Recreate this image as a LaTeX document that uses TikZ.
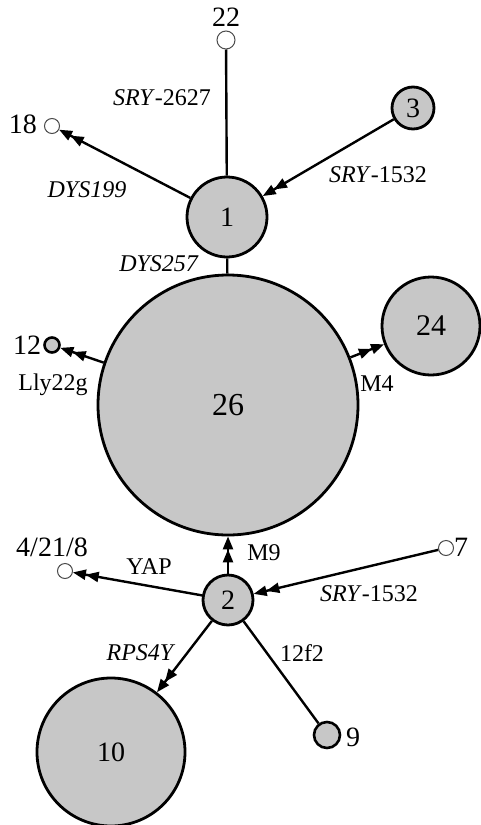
\documentclass[tikz,border=0pt]{standalone}
\usepackage{fontspec}
\setmainfont{Liberation Serif}
\usetikzlibrary{arrows.meta}

\tikzset{
  hap/.style={circle, draw=black, line width=2.8pt, fill=black!22, inner sep=0pt,
              font=\fontsize{28}{28}\selectfont},
  tiny/.style={circle, draw=black!70, line width=1pt, fill=white, inner sep=0pt},
  smallhap/.style={circle, draw=black, line width=2.6pt, fill=black!22, inner sep=0pt},
  lbl/.style={font=\fontsize{24}{24}\selectfont, inner sep=0pt},
  num/.style={font=\fontsize{28}{28}\selectfont, inner sep=0pt},
  link/.style={line width=2.4pt},
  mut/.style={line width=2.4pt,
    -{Triangle[length=13pt,width=10pt] Triangle[length=13pt,width=10pt]}},
}

\begin{document}
\begin{tikzpicture}[x=1pt, y=-1pt]
\useasboundingbox (0,0) rectangle (480,825);

% haplotype circles
\node[hap, minimum size=80pt] (n1) at (227,217) {1};
\node[hap, minimum size=42pt] (n3) at (413,108) {3};
\node[hap, minimum size=260pt, font=\fontsize{32}{32}\selectfont] (n26) at (228,405) {26};
\node[hap, minimum size=98pt, font=\fontsize{30}{30}\selectfont] (n24) at (431,326) {24};
\node[hap, minimum size=50pt] (n2) at (228,600) {2};
\node[hap, minimum size=148pt] (n10) at (111,752) {10};
\node[smallhap, minimum size=26pt] (n9) at (327,735) {};
\node[smallhap, minimum size=15pt] (n12) at (52,345) {};
\node[tiny, minimum size=18pt] (n22) at (226,40) {};
\node[tiny, minimum size=15pt] (n18) at (52,126) {};
\node[tiny, minimum size=15pt] (n4218) at (65,571) {};
\node[tiny, minimum size=15pt] (n7) at (446,548) {};

% labels of the outer haplotypes
\node[num] (t22) at (226,17) {22};
\node[num] (t18) at (23,124) {18};
\node[num] (t12) at (27,345) {12};
\node[num] (t4218) at (52,547) {4/21/8};
\node[num] (t7) at (461,547) {7};
\node[num] (t9) at (353,737) {9};

% connectors
\draw[link] (n1) -- (n22);
\draw[mut] (n1) -- (n18);
\draw[mut] (n3) -- (n1);
\draw[link] (n1) -- (n26);
\draw[mut] (n26) -- (n12);
\draw[mut] (n26) -- (n24);
\draw[mut] (n2) -- (n26);
\draw[mut] (n2) -- (n4218);
\draw[mut] (n7) -- (n2);
\draw[mut] (n2) -- (n10);
\draw[link] (n2) -- (n9);

% mutation labels
\node[lbl] (m1) at (162,98) {\textit{SRY}-2627};
\node[lbl] (m2) at (87,190) {\textit{DYS199}};
\node[lbl] (m3) at (378,175) {\textit{SRY}-1532};
\node[lbl] (m4) at (159,264) {\textit{DYS257}};
\node[lbl] (m5) at (53,385) {Lly22g};
\node[lbl] (m6) at (377,384) {M4};
\node[lbl] (m7) at (264,553) {M9};
\node[lbl] (m8) at (149,567) {YAP};
\node[lbl] (m9) at (369,594) {\textit{SRY}-1532};
\node[lbl] (m10) at (141,653) {\textit{RPS4Y}};
\node[lbl] (m11) at (302,653) {12f2};
\end{tikzpicture}
\end{document}
